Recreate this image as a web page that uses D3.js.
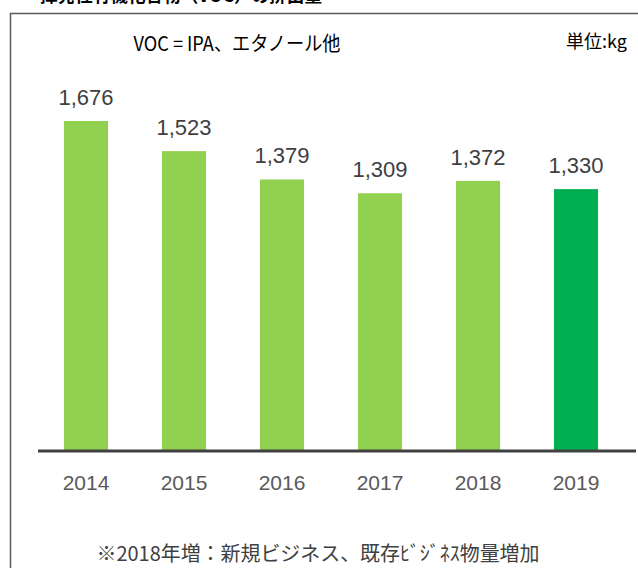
<!DOCTYPE html>
<html>
<head>
<meta charset="utf-8">
<script src="https://cdn.jsdelivr.net/npm/d3@7"></script>
<style>
  body { margin: 0; background: #fff; }
  svg { display: block; }
</style>
</head>
<body>
<svg id="chart" width="638" height="568"></svg>
<script>
// data
const years = ['2014', '2015', '2016', '2017', '2018', '2019'];
const voc = [1676, 1523, 1379, 1309, 1372, 1330];
const barColors = ['#92d050', '#92d050', '#92d050', '#92d050', '#92d050', '#00b050'];

const svg = d3.select('#chart');
const jp = '"Noto Sans CJK JP", sans-serif';
const num = '"Liberation Sans Narrow", "Liberation Sans", Arial, sans-serif';

// frame (runs off the right and bottom)
svg.append('path')
    .attr('d', 'M10.5,700 V13.5 H700')
    .attr('fill', 'none')
    .attr('stroke', '#595959')
    .attr('stroke-width', 1.5);

// heading above frame, mostly cut off
svg.append('text')
    .attr('x', 40).attr('y', 2)
    .attr('font-family', jp).attr('font-weight', 'bold')
    .attr('font-size', 18.5).attr('fill', '#000')
    .attr('textLength', 282).attr('lengthAdjust', 'spacingAndGlyphs')
    .text('揮発性有機化合物（VOC）の排出量');

svg.append('text')
    .attr('x', 237).attr('y', 51)
    .attr('text-anchor', 'middle')
    .attr('font-family', jp).attr('font-size', 20).attr('fill', '#000')
    .attr('textLength', 207).attr('lengthAdjust', 'spacingAndGlyphs')
    .text('VOC = IPA、エタノール他');

svg.append('text')
    .attr('x', 627).attr('y', 48)
    .attr('text-anchor', 'end')
    .attr('font-family', jp).attr('font-size', 18).attr('fill', '#000')
    .text('単位:kg');

const x = d3.scaleBand()
    .domain(years)
    .range([37, 625])
    .paddingInner(0.55)
    .paddingOuter(0.275);

const y = d3.scaleLinear()
    .domain([0, 1676])
    .range([451, 121]);

const g = svg.append('g');

g.selectAll('rect.bar')
    .data(voc)
    .join('rect')
    .attr('class', 'bar')
    .attr('x', (d, i) => x(years[i]))
    .attr('y', d => y(d))
    .attr('width', x.bandwidth())
    .attr('height', d => y(0) - y(d))
    .attr('fill', (d, i) => barColors[i]);

g.selectAll('text.val')
    .data(voc)
    .join('text')
    .attr('class', 'val')
    .attr('x', (d, i) => x(years[i]) + x.bandwidth() / 2)
    .attr('y', d => y(d) - 16)
    .attr('text-anchor', 'middle')
    .attr('font-family', num).attr('font-size', 22)
    .attr('fill', '#404040')
    .text(d => d3.format(',')(d));

// baseline axis
const axis = svg.append('g')
    .attr('transform', `translate(0,${y(0)})`)
    .call(d3.axisBottom(x).tickSize(0).tickPadding(24));
axis.select('.domain')
    .attr('d', 'M38,0H636')
    .attr('stroke', '#404040')
    .attr('stroke-width', 3);
axis.selectAll('text')
    .attr('font-family', num).attr('font-size', 21)
    .attr('fill', '#595959');

svg.append('text')
    .attr('x', 318).attr('y', 561)
    .attr('text-anchor', 'middle')
    .attr('font-family', jp).attr('font-size', 20).attr('fill', '#404040')
    .attr('textLength', 443).attr('lengthAdjust', 'spacingAndGlyphs')
    .text('※2018年増：新規ビジネス、既存ﾋﾞｼﾞﾈｽ物量増加');
</script>
</body>
</html>
